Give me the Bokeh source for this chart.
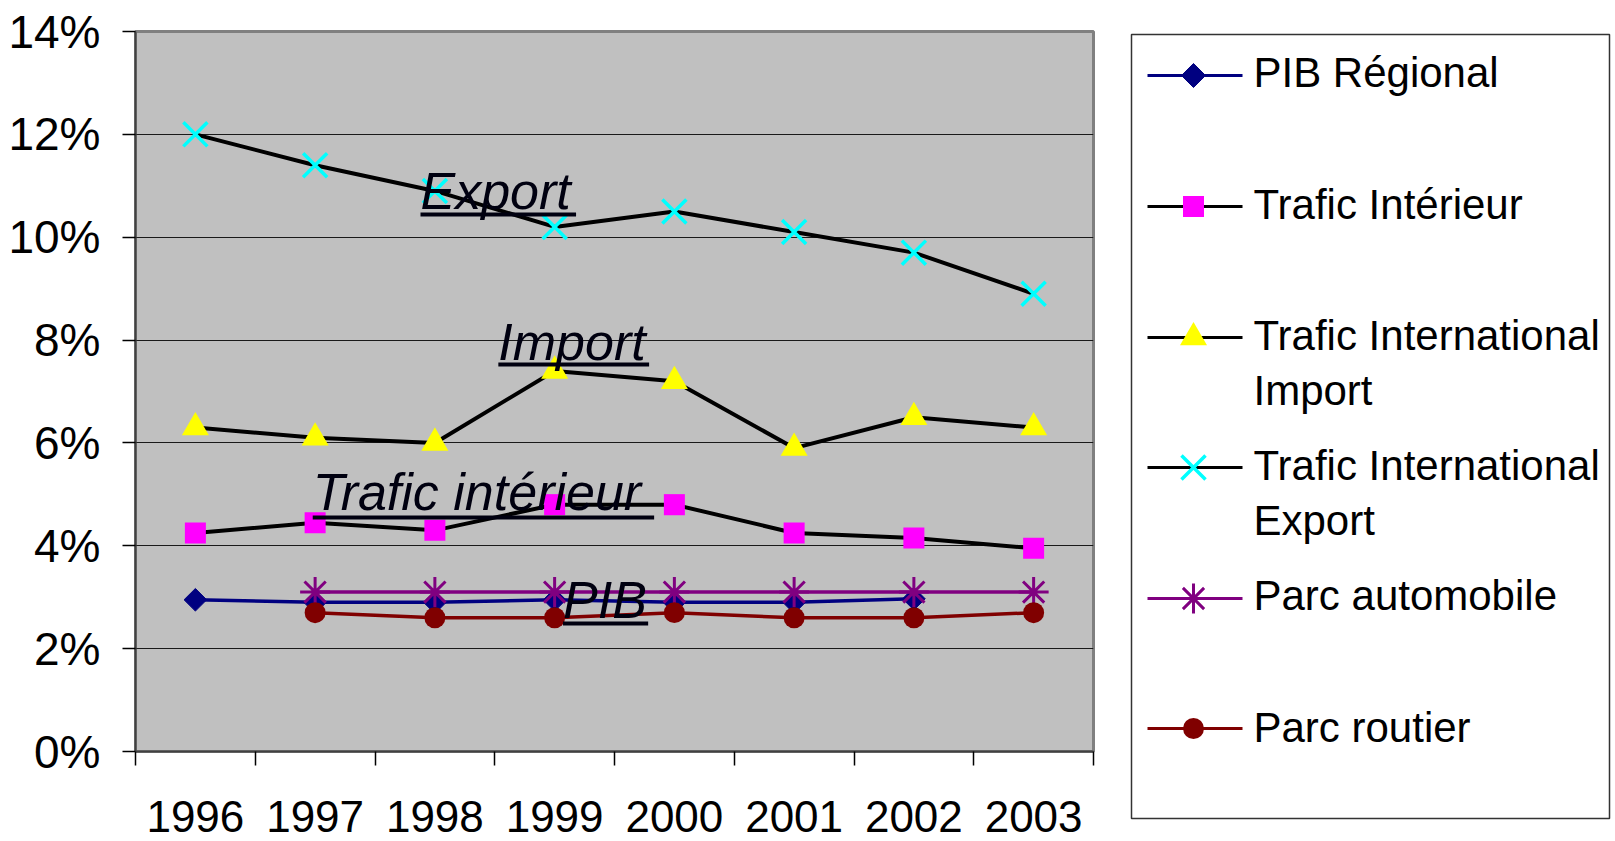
import math
from bokeh.plotting import figure
from bokeh.models import Range1d, FixedTicker, PrintfTickFormatter
from bokeh.layouts import row, column
from bokeh.embed import file_html
from bokeh.resources import INLINE
from bokeh.core.properties import value

nan = float("nan")

# ---------------- data (percent) ----------------
years = ["1996", "1997", "1998", "1999", "2000", "2001", "2002", "2003"]
pib_regional = [2.95, 2.9, 2.9, 2.95, 2.9, 2.9, 2.97, nan]
trafic_interieur = [4.25, 4.45, 4.3, 4.8, 4.8, 4.25, 4.15, 3.95]
trafic_import = [6.3, 6.1, 6.0, 7.4, 7.2, 5.9, 6.5, 6.3]
trafic_export = [12.0, 11.4, 10.9, 10.2, 10.5, 10.1, 9.7, 8.9]
parc_automobile = [nan, 3.1, 3.1, 3.1, 3.1, 3.1, 3.1, 3.1]
parc_routier = [nan, 2.7, 2.6, 2.6, 2.7, 2.6, 2.6, 2.7]
y_ticks = [0, 2, 4, 6, 8, 10, 12, 14]

legend_lines1 = ["PIB Régional", "Trafic Intérieur", "Trafic International",
                 "Trafic International", "Parc automobile", "Parc routier"]
legend_lines2 = ["", "", "Import", "Export", "", ""]

annot_text = ["Export", "Import", "Trafic intérieur", "PIB"]

FONT = "Liberation Sans"

# ---------------- main figure ----------------
xs = [i + 0.5 for i in range(len(years))]
MAIN_W = 1118
H = 841

p = figure(width=MAIN_W, height=H, x_range=Range1d(0, len(years)),
           y_range=Range1d(0, 14), output_backend="svg", toolbar_location=None,
           min_border_left=135, min_border_top=31, min_border_right=25,
           min_border_bottom=90)
p.background_fill_color = "#C0C0C0"
p.border_fill_color = "white"
p.outline_line_color = "#808080"
p.outline_line_width = 3

p.xgrid.visible = False
p.ygrid.ticker = FixedTicker(ticks=y_ticks)
p.ygrid.grid_line_color = "#1a1a1a"
p.ygrid.grid_line_width = 1

xa = p.xaxis[0]
xa.ticker = FixedTicker(ticks=xs, minor_ticks=list(range(len(years) + 1)))
xa.major_label_overrides = {x: y for x, y in zip(xs, years)}
xa.major_tick_out = 0
xa.major_tick_in = 0
xa.minor_tick_out = 14
xa.minor_tick_in = 0
xa.minor_tick_line_color = "black"
xa.minor_tick_line_width = 1.5
xa.axis_line_color = "#404040"
xa.axis_line_width = 2
xa.major_label_text_font = FONT
xa.major_label_text_font_size = "44px"
xa.major_label_text_color = "black"
xa.major_label_standoff = 35

ya = p.yaxis[0]
ya.ticker = FixedTicker(ticks=y_ticks, minor_ticks=[])
ya.formatter = PrintfTickFormatter(format="%d%%")
ya.major_tick_out = 13
ya.major_tick_in = 0
ya.major_tick_line_color = "black"
ya.major_tick_line_width = 1.5
ya.axis_line_color = "#404040"
ya.axis_line_width = 2
ya.major_label_text_font = FONT
ya.major_label_text_font_size = "46px"
ya.major_label_text_color = "black"
ya.major_label_standoff = 22

series = [
    (pib_regional, "#000080", 3.5, dict(marker="square", angle=math.pi / 4, size=16,
                                         fill_color="#000080", line_color="#000080")),
    (trafic_interieur, "black", 4, dict(marker="square", size=21,
                                        fill_color="#FF00FF", line_color=None)),
    (trafic_import, "black", 4, dict(marker="triangle", size=27,
                                     fill_color="#FFFF00", line_color=None)),
    (trafic_export, "black", 4, dict(marker="x", size=34,
                                     line_color="#00FFFF", line_width=3.5)),
    (parc_automobile, "#800080", 3.5, dict(marker="asterisk", size=30,
                                           line_color="#800080", line_width=3)),
    (parc_routier, "#800000", 3.5, dict(marker="circle", size=21,
                                        fill_color="#800000", line_color=None)),
]
for vals, lc, lw, mk in series:
    p.line(xs, vals, line_color=lc, line_width=lw)
    p.scatter(xs, vals, **mk)

# annotation labels (positions in axis units)
annot_x = [2.38, 3.03, 1.48, 3.57]
annot_y = [10.89, 7.97, 5.055, 2.955]
under_x1 = [3.679, 4.289, 4.331, 4.281]
under_y = [10.44, 7.525, 4.55, 2.489]
p.text(annot_x, annot_y, text=annot_text, text_font=value(FONT),
       text_font_style="italic", text_font_size="52px", text_color="#000010",
       text_align="left", text_baseline="alphabetic")
p.segment(annot_x, under_y, under_x1, under_y, line_color="#000010", line_width=4)

# ---------------- legend figure (coordinates = page pixels) ----------------
LEG_W = 1615 - MAIN_W
leg = figure(width=LEG_W, height=H, x_range=Range1d(MAIN_W, MAIN_W + LEG_W),
             y_range=Range1d(H, 31), output_backend="svg", toolbar_location=None,
             min_border_left=0, min_border_right=0, min_border_top=31,
             min_border_bottom=0, x_axis_type=None, y_axis_type=None)
leg.xgrid.visible = False
leg.ygrid.visible = False
leg.outline_line_color = None
leg.background_fill_color = "white"
leg.border_fill_color = "white"

leg.quad(left=[1131], right=[1609], top=[34], bottom=[818], fill_color=None,
         line_color="#333333", line_width=1.5)

row_y = [75, 206, 337, 467, 598, 728]
for (vals, lc, lw, mk), yy in zip(series, row_y):
    leg.segment([1147], [yy], [1242], [yy], line_color=lc, line_width=3)
    mk2 = dict(mk)
    if "angle" in mk2:
        mk2["size"] = 17
    leg.scatter([1193], [yy], **mk2)

base1 = [72, 204, 335, 465, 595, 727]
leg.text([1253] * 6, base1, text=legend_lines1, text_font=value(FONT),
         text_font_size="42px", text_color="black", text_align="left",
         text_baseline="alphabetic")
leg.text([1253] * 6, [b + 55 for b in base1], text=legend_lines2, text_font=value(FONT),
         text_font_size="42px", text_color="black", text_align="left",
         text_baseline="alphabetic")

if "frame_align" in leg.properties():
    p.frame_align = False
    leg.frame_align = False
    layout = row(p, leg)
else:
    layout = row(p, column(leg))
open("out.html", "w").write(file_html(layout, INLINE))
